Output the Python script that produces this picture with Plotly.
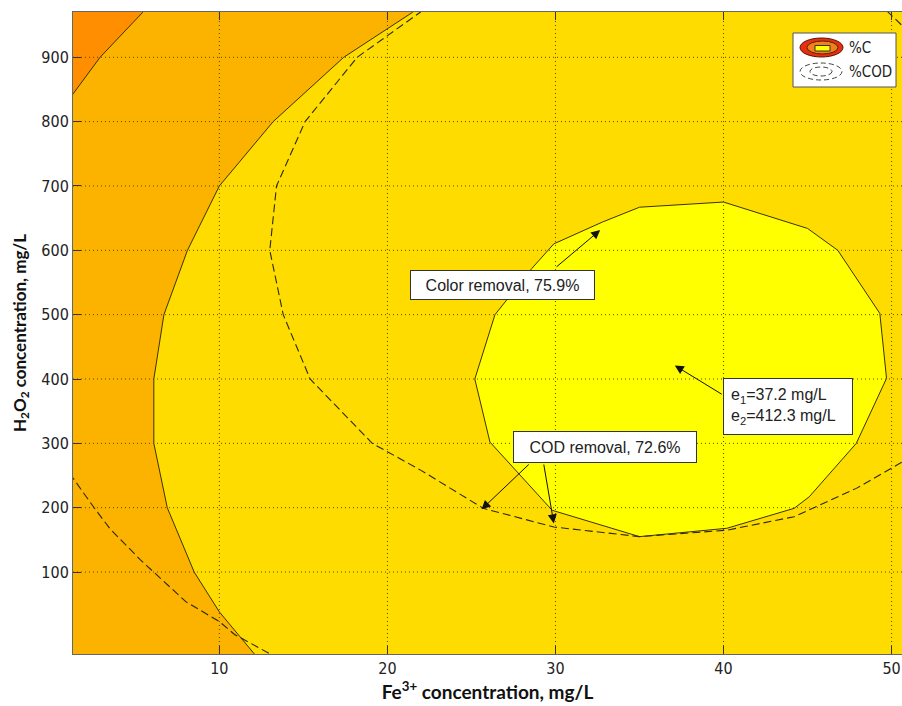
import plotly.graph_objects as go

# ---------------- data ----------------
# Fe3+ (x) / H2O2 (y) coordinates of the %C contour boundaries
c_low_x = [0.5, 1.29, 2.9, 5.44, 6.17]          # darkest-orange region edge (top-left)
c_low_y = [815, 843, 900, 970, 990]

c_mid_x = [12.5, 12.07, 10.0, 8.5, 6.9, 6.1, 6.1, 6.7, 8.1, 10.0, 13.2, 17.4, 21.5, 22.3]
c_mid_y = [-45, -27, 38, 100, 200, 300, 400, 500, 600, 700, 800, 900, 970, 990]

c_opt_x = [25.2, 26.4, 28.6, 29.9, 32.8, 35.0, 40.0, 45.0, 46.8, 49.3, 49.7, 47.9, 45.1, 44.2, 40.2, 35.0, 29.8, 26.1, 25.2]
c_opt_y = [400, 500, 572, 610, 644, 667, 675, 634, 600, 502, 401, 300, 217, 199, 168, 155, 196, 302, 400]

# %COD contour lines (dashed)
cod_low_x = [0.5, 1.29, 2.6, 3.5, 5.3, 8.0, 10.0, 10.9, 13.0, 13.8]
cod_low_y = [265, 246, 198, 167, 119, 54, 23, 3, -27, -40]

cod_mid_x = [22.4, 21.95, 18.2, 15.1, 13.4, 13.0, 13.8, 15.4, 19.1, 22.0, 25.7, 29.9, 35.0, 40.2, 44.2, 47.9, 50.5, 52.0]
cod_mid_y = [990, 970, 900, 800, 700, 600, 500, 400, 300, 258, 199, 170, 155, 165, 186, 230, 269, 290]

cod_corner_x = [49.2, 51.0]
cod_corner_y = [985, 940]

x_ticks = [10, 20, 30, 40, 50]
y_ticks = [100, 200, 300, 400, 500, 600, 700, 800, 900]

X_RANGE = [1.29, 50.62]
Y_RANGE = [-27.4, 970.4]

COL_DARK = "#FF8E00"
COL_ORANGE = "#FBB300"
COL_GOLD = "#FFDC00"
COL_YELLOW = "#FFFF00"
LINE_COL = "#3a3300"

fig = go.Figure()

# darkest orange corner
fig.add_trace(go.Scatter(
    x=c_low_x + [c_low_x[0]], y=c_low_y + [c_low_y[-1]],
    fill="toself", fillcolor=COL_DARK, mode="lines",
    line=dict(color=LINE_COL, width=1), showlegend=False, hoverinfo="skip"))

# gold region (right of the mid contour)
fig.add_trace(go.Scatter(
    x=c_mid_x + [60, 60], y=c_mid_y + [c_mid_y[-1], c_mid_y[0]],
    fill="toself", fillcolor=COL_GOLD, mode="lines",
    line=dict(color=LINE_COL, width=1), showlegend=False, hoverinfo="skip"))

# optimum yellow region
fig.add_trace(go.Scatter(
    x=c_opt_x, y=c_opt_y,
    fill="toself", fillcolor=COL_YELLOW, mode="lines",
    line=dict(color=LINE_COL, width=1), showlegend=False, hoverinfo="skip"))

# COD dashed contours
for xs, ys in [(cod_low_x, cod_low_y), (cod_mid_x, cod_mid_y), (cod_corner_x, cod_corner_y)]:
    fig.add_trace(go.Scatter(
        x=xs, y=ys, mode="lines",
        line=dict(color="#2a2a10", width=1.1, dash="8px,4px"),
        showlegend=False, hoverinfo="skip"))

shapes = []
grid_line = dict(color="rgba(70,60,20,0.9)", width=1, dash="1px,3px")
for v in x_ticks:
    shapes.append(dict(type="line", xref="x", yref="paper", x0=v, x1=v, y0=0, y1=1,
                       line=grid_line, layer="above"))
for v in y_ticks:
    shapes.append(dict(type="line", xref="paper", yref="y", x0=0, x1=1, y0=v, y1=v,
                       line=grid_line, layer="above"))

# plot area in page pixels (body margin removed by post_script below)
L, T, W, H = 73, 12, 829, 642
FIG_W, FIG_H = 902, 706


def px(xp):
    return (xp - L) / W


def py(yp):
    return (T + H - yp) / H


# ---- legend built from shapes ----
shapes.append(dict(type="rect", xref="paper", yref="paper",
                   x0=px(793), x1=px(896), y0=py(87), y1=py(33),
                   fillcolor="white", line=dict(color="#555", width=1), layer="above"))
shapes.append(dict(type="circle", xref="paper", yref="paper",
                   x0=px(800), x1=px(843), y0=py(57), y1=py(38),
                   fillcolor="#E5300F", line=dict(color="#5a1000", width=1), layer="above"))
shapes.append(dict(type="circle", xref="paper", yref="paper",
                   x0=px(807), x1=px(838), y0=py(54), y1=py(41),
                   fillcolor="#F2801A", line=dict(color="#5a2000", width=1), layer="above"))
shapes.append(dict(type="rect", xref="paper", yref="paper",
                   x0=px(815), x1=px(830), y0=py(51), y1=py(45.5),
                   fillcolor="#FFFF00", line=dict(color="#333", width=1), layer="above"))
shapes.append(dict(type="circle", xref="paper", yref="paper",
                   x0=px(800), x1=px(842), y0=py(80), y1=py(63),
                   line=dict(color="#444", width=1, dash="5px,3px"), layer="above"))
shapes.append(dict(type="circle", xref="paper", yref="paper",
                   x0=px(810), x1=px(832), y0=py(76), y1=py(67),
                   line=dict(color="#444", width=1, dash="5px,3px"), layer="above"))

narrow = "Liberation Sans Narrow, DejaVu Sans Condensed, Arial Narrow, Liberation Sans, sans-serif"
legend_font = dict(family=narrow, size=15, color="#222")
annotations = [
    dict(xref="paper", yref="paper", x=px(847), y=py(48), xanchor="left", yanchor="middle",
         text="%C", showarrow=False, font=legend_font),
    dict(xref="paper", yref="paper", x=px(847), y=py(72), xanchor="left", yanchor="middle",
         text="%COD", showarrow=False, font=legend_font),
]

box_font = dict(family="Liberation Sans, Arial, sans-serif", size=16, color="#222")
annotations += [
    dict(x=26.86, y=546, xref="x", yref="y", text="Color removal, 75.9%", showarrow=False,
         bgcolor="white", bordercolor="#333", borderwidth=1, width=181, height=26, font=box_font),
    dict(x=32.96, y=294, xref="x", yref="y", text="COD removal, 72.6%", showarrow=False,
         bgcolor="white", bordercolor="#333", borderwidth=1, width=180, height=28, font=box_font),
    dict(x=43.85, y=357, xref="x", yref="y",
         text="e<sub>1</sub>=37.2 mg/L<br>e<sub>2</sub>=412.3 mg/L", showarrow=False,
         bgcolor="white", bordercolor="#333", borderwidth=1, borderpad=7, width=114, height=41,
         align="left", font=box_font),
]

arrows = [
    ((32.66, 631.5), (29.98, 572.5)),
    ((37.1, 421), (39.98, 375)),
    ((25.6, 197.4), (28.5, 269.4)),
    ((29.9, 175.6), (29.29, 269.4)),
]
for (hx, hy), (tx, ty) in arrows:
    annotations.append(dict(x=hx, y=hy, ax=tx, ay=ty, xref="x", yref="y", axref="x", ayref="y",
                            text="", showarrow=True, arrowhead=2, arrowsize=1.8, arrowwidth=1,
                            arrowcolor="#111", standoff=0, startstandoff=0))

tick_font = dict(family=narrow, size=16, color="#222")

fig.update_layout(
    width=FIG_W, height=FIG_H,
    margin=dict(l=L, r=FIG_W - L - W, t=T, b=FIG_H - T - H, autoexpand=False),
    paper_bgcolor="white", plot_bgcolor=COL_ORANGE,
    shapes=shapes, annotations=annotations,
    showlegend=False,
)
fig.update_xaxes(
    range=X_RANGE, tickvals=x_ticks, ticks="inside", ticklen=8, tickcolor="#333",
    showgrid=False, zeroline=False, showline=True, linecolor="#666", linewidth=1,
    mirror="ticks", tickfont=tick_font, automargin=False,
    title=dict(text="<b>Fe<sup>3+</sup> concentration, mg/L</b>",
               font=dict(family="Lato, Open Sans, sans-serif", size=19, color="#111"), standoff=3),
)
fig.update_yaxes(
    range=Y_RANGE, tickvals=y_ticks, ticks="inside", ticklen=8, tickcolor="#333",
    showgrid=False, zeroline=False, showline=True, linecolor="#666", linewidth=1,
    tickfont=tick_font, automargin=False,
    title=dict(text="<b>H<sub>2</sub>O<sub>2</sub> concentration, mg/L</b>",
               font=dict(family="Lato, Open Sans, sans-serif", size=17, color="#111"), standoff=10),
)

fig.write_html("out.html", config={"displayModeBar": False},
               post_script="document.body.style.margin='0px';document.body.style.overflow='hidden';")
